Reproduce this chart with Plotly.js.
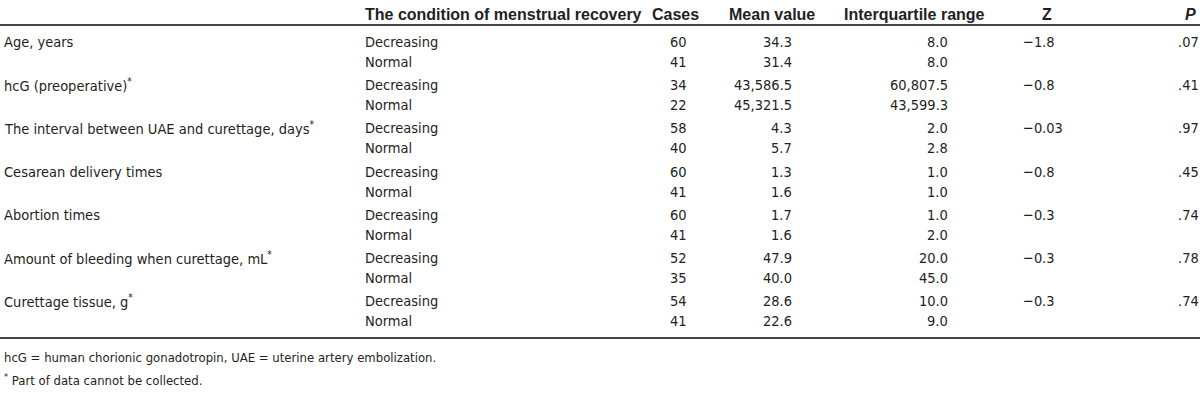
<!DOCTYPE html>
<html>
<head>
<meta charset="utf-8">
<script src="https://cdn.plot.ly/plotly-3.0.1.min.js"></script>
<style>
html,body{margin:0;padding:0;background:#fff;}
#chart{width:1200px;height:414px;}
</style>
</head>
<body>
<div id="chart"></div>
<script>
// ---- Data ----
var headers = ["The condition of menstrual recovery", "Cases", "Mean value", "Interquartile range", "Z", "P"];
var variables = ["Age, years", "hcG (preoperative)", "The interval between UAE and curettage, days",
  "Cesarean delivery times", "Abortion times", "Amount of bleeding when curettage, mL", "Curettage tissue, g"];
var partialData = [false, true, true, false, false, true, true];
var groups = ["Decreasing", "Normal"];
var casesDecreasing = [60, 34, 58, 60, 60, 52, 54];
var casesNormal = [41, 22, 40, 41, 41, 35, 41];
var meanDecreasing = [34.3, 43586.5, 4.3, 1.3, 1.7, 47.9, 28.6];
var meanNormal = [31.4, 45321.5, 5.7, 1.6, 1.6, 40.0, 22.6];
var iqrDecreasing = [8.0, 60807.5, 2.0, 1.0, 1.0, 20.0, 10.0];
var iqrNormal = [8.0, 43599.3, 2.8, 1.0, 2.0, 45.0, 9.0];
var zValues = ["\u22121.8", "\u22120.8", "\u22120.03", "\u22120.8", "\u22120.3", "\u22120.3", "\u22120.3"];
var pValues = [".07", ".41", ".97", ".45", ".74", ".78", ".74"];
var footnotes = ["hcG = human chorionic gonadotropin, UAE = uterine artery embolization.",
  "<sup>*</sup> Part of data cannot be collected."];

// ---- Layout helpers ----
var BODYFONT = "'DejaVu Sans Condensed', 'Liberation Sans', Arial, sans-serif";
var HEADFONT = "'Liberation Sans', Arial, sans-serif";
var TXT = "#231f20";
var headerY = 14;
var topRuleY = 25;
var firstRowY = 42, withinPair = 20, pairStep = 43.2;
var bottomRuleY = 338;
var footY = [357, 380];

var colLabelX = 4, colCondX = 365, colCasesX = 678, colMeanR = 792, colIqrR = 948, colZDec = 1042, colPX = 1178;

function fmt(v){ return v.toLocaleString('en-US', {minimumFractionDigits:1, maximumFractionDigits:1}); }

var ann = [];
function add(x, y, text, anchor, opts){
  opts = opts || {};
  ann.push({x:x, y:y, xref:'x', yref:'y', text:text, showarrow:false, xanchor:anchor, yanchor:'middle',
    borderpad:0, borderwidth:0,
    font:{family:opts.family||BODYFONT, size:opts.size||14.5, color:TXT}});
}
// headers
var H = {family:HEADFONT, size:16};
add(colCondX, headerY, "<b>"+headers[0]+"</b>", 'left', H);
add(675, headerY, "<b>"+headers[1]+"</b>", 'center', H);
add(772, headerY, "<b>"+headers[2]+"</b>", 'center', H);
add(914, headerY, "<b>"+headers[3]+"</b>", 'center', H);
add(1047, headerY, "<b>"+headers[4]+"</b>", 'center', H);
add(1190, headerY, "<b><i>"+headers[5]+"</i></b>", 'center', H);

for (var i=0;i<variables.length;i++){
  var yD = firstRowY + i*pairStep, yN = yD + withinPair;
  add(colLabelX, yD, variables[i] + (partialData[i] ? "<sup>*</sup>" : ""), 'left');
  add(colCondX, yD, groups[0], 'left');
  add(colCondX, yN, groups[1], 'left');
  add(colCasesX, yD, String(casesDecreasing[i]), 'center');
  add(colCasesX, yN, String(casesNormal[i]), 'center');
  add(colMeanR, yD, fmt(meanDecreasing[i]), 'right');
  add(colMeanR, yN, fmt(meanNormal[i]), 'right');
  add(colIqrR, yD, fmt(iqrDecreasing[i]), 'right');
  add(colIqrR, yN, fmt(iqrNormal[i]), 'right');
  var zp = zValues[i].split('.');
  add(colZDec, yD, zp[0], 'right');
  add(colZDec, yD, '.'+zp[1], 'left');
  add(colPX, yD, pValues[i], 'left');
}
add(colLabelX, footY[0], footnotes[0], 'left', {size:13});
add(colLabelX, footY[1], footnotes[1], 'left', {size:13});

var shapes = [
  {type:'line', xref:'x', yref:'y', x0:0, x1:1200, y0:topRuleY, y1:topRuleY, line:{color:'#444', width:2}},
  {type:'line', xref:'x', yref:'y', x0:0, x1:1200, y0:bottomRuleY, y1:bottomRuleY, line:{color:'#444', width:2}}
];

var layout = {
  width:1200, height:414,
  margin:{l:0, r:0, t:0, b:0},
  paper_bgcolor:'#fff', plot_bgcolor:'#fff',
  xaxis:{range:[0,1200], visible:false, fixedrange:true},
  yaxis:{range:[414,0], visible:false, fixedrange:true},
  annotations:ann, shapes:shapes, showlegend:false
};
Plotly.newPlot('chart', [{x:[0], y:[0], mode:'markers', marker:{opacity:0}, hoverinfo:'skip', showlegend:false}], layout, {staticPlot:true});
</script>
</body>
</html>
